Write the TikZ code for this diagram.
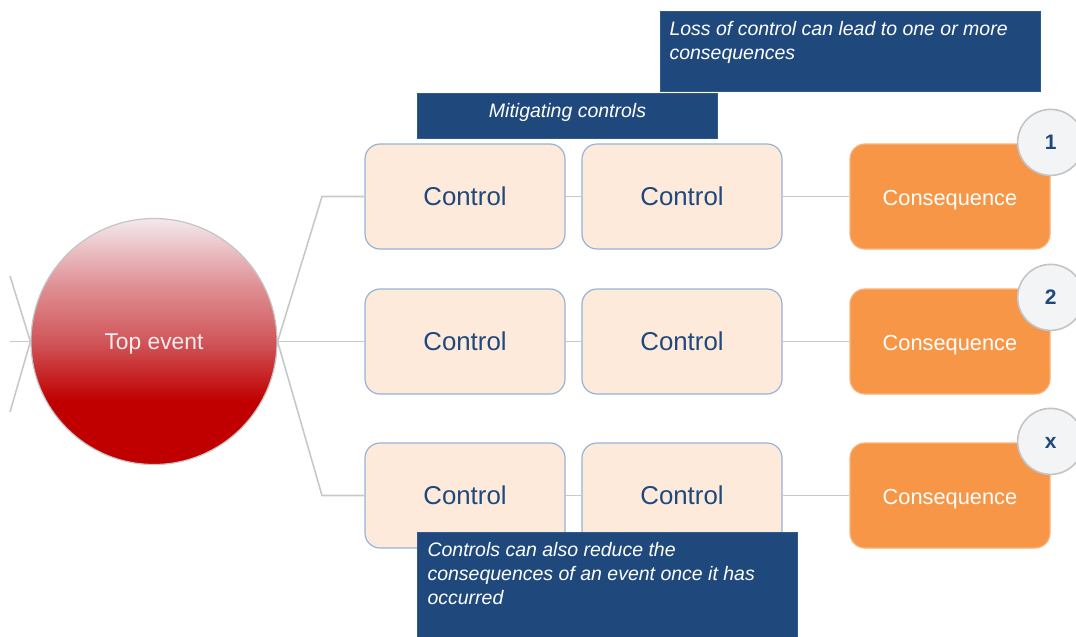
\documentclass[tikz,border=0pt]{standalone}
\usepackage{fontspec}
\setmainfont{Liberation Sans}

% palette
\definecolor{navy}{HTML}{1F497D}
\definecolor{calloutedge}{HTML}{2F5A8C}
\definecolor{ctrlfill}{HTML}{FDEADA}
\definecolor{ctrledge}{HTML}{95B3D7}
\definecolor{consfill}{HTML}{F79646}
\definecolor{consedge}{HTML}{F9B27A}
\definecolor{wire}{HTML}{C8C8C8}
\definecolor{badgefill}{HTML}{F3F4F6}
\definecolor{badgeedge}{HTML}{C4C4C4}
\definecolor{evtop}{RGB}{243,233,237}
\definecolor{evpink}{RGB}{224,148,152}
\definecolor{evmid}{RGB}{208,86,90}
\definecolor{evred}{RGB}{192,0,0}

% red fading to pale pink towards the top
\pgfdeclareverticalshading{topevent}{100bp}{%
  color(0bp)=(evred); color(38bp)=(evred); color(50bp)=(evmid);
  color(62bp)=(evpink); color(75bp)=(evtop); color(100bp)=(evtop)}

\tikzset{
  wireline/.style={draw=wire, line width=0.8pt},
  ctrlbox/.style={rectangle, rounded corners=7.5pt, fill=ctrlfill, draw=ctrledge,
    line width=0.6pt, minimum width=100pt, minimum height=52.5pt, inner sep=0pt,
    text height=0.86em, text depth=0pt,
    text=navy, font=\fontsize{12.9}{15}\selectfont},
  consbox/.style={rectangle, rounded corners=7.5pt, fill=consfill, draw=consedge,
    line width=0.6pt, minimum width=100pt, minimum height=52.5pt, inner sep=0pt,
    text height=0.86em, text depth=0pt,
    text=white, font=\fontsize{10.9}{13}\selectfont},
  badge/.style={circle, fill=badgefill, draw=badgeedge, line width=0.8pt,
    minimum size=33pt, inner sep=0pt, text height=0.72em, text depth=0pt,
    text=navy, font=\fontsize{10.5}{12}\selectfont\bfseries},
  callout/.style={rectangle, fill=navy, draw=calloutedge, line width=0.5pt,
    text=white, font=\fontsize{9.75}{12}\selectfont\itshape, anchor=north west},
  topev/.style={circle, shading=topevent, draw=badgeedge, line width=0.6pt,
    minimum size=123pt, inner sep=0pt, text height=0.76em, text depth=0pt,
    text={rgb,255:red,250;green,236;blue,236},
    font=\fontsize{11.4}{14}\selectfont},
}

\begin{document}
\begin{tikzpicture}[x=0.5pt, y=-0.5pt]
  \useasboundingbox (0,0) rectangle (1076,637);

  % central event
  \node[topev] (top) at (154,341.5) {Top event};

  % threads coming in from the left
  \coordinate (in1) at (10,276);
  \coordinate (in2) at (10,341.5);
  \coordinate (in3) at (10,412);
  \draw[wireline] (in1) -- (top.west);
  \draw[wireline] (in2) -- (top.west);
  \draw[wireline] (in3) -- (top.west);

  % control barriers
  \node[ctrlbox] (c11) at (465,196.5) {Control};
  \node[ctrlbox] (c12) at (682,196.5) {Control};
  \node[ctrlbox] (c21) at (465,341.5) {Control};
  \node[ctrlbox] (c22) at (682,341.5) {Control};
  \node[ctrlbox] (c31) at (465,495.5) {Control};
  \node[ctrlbox] (c32) at (682,495.5) {Control};

  % consequences
  \node[consbox] (q1) at (950,196.5) {Consequence};
  \node[consbox] (q2) at (950,341.5) {Consequence};
  \node[consbox] (q3) at (950,495.5) {Consequence};

  % fan-out from the event to each row
  \coordinate (b1) at (322,196.5);
  \coordinate (b3) at (322,495.5);
  \draw[wireline] (top.east) -- (b1) -- (c11.west);
  \draw[wireline] (top.east) -- (c21.west);
  \draw[wireline] (top.east) -- (b3) -- (c31.west);

  % links along each row
  \foreach \r in {1,2,3} {
    \draw[wireline] (c\r1.east) -- (c\r2.west);
    \draw[wireline] (c\r2.east) -- (q\r.west);
  }

  % numbered badges
  \node[badge] (n1) at ([yshift=0.5pt]q1.north east) {1};
  \node[badge] (n2) at ([yshift=-4.5pt]q2.north east) {2};
  \node[badge] (n3) at ([yshift=0.5pt]q3.north east) {x};

  % explanatory callouts
  \node[callout, inner xsep=4.5pt, inner ysep=5pt] (lossnote) at (660,11)
    {\parbox[c][30pt][t]{181pt}{\raggedright Loss of control can lead to one or more consequences}};
  \node[callout, inner xsep=0pt, inner ysep=5pt] (mitnote) at (417,93)
    {\parbox[c][12.5pt][t]{150pt}{\centering Mitigating controls}};
  \node[callout, inner xsep=5pt, inner ysep=5pt] (reducenote) at (417,532)
    {\parbox[c][42.5pt][t]{180pt}{\raggedright Controls can also reduce the consequences of an event once it has occurred}};
\end{tikzpicture}
\end{document}
